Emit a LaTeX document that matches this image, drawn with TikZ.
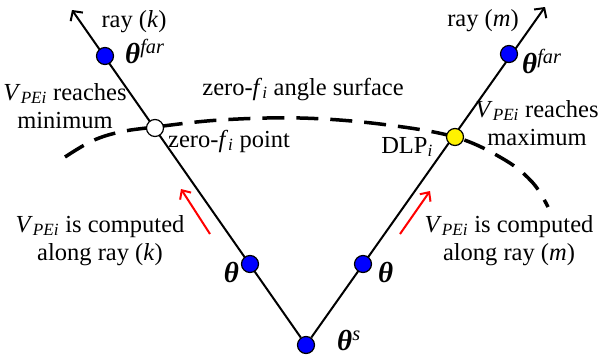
\documentclass[tikz,border=0pt]{standalone}
\usepackage{fontspec}
\setmainfont{Liberation Serif}
\usetikzlibrary{arrows.meta, backgrounds}
\newcommand{\vpe}{\textit{V}\textsubscript{\textit{PEi}}}
\newcommand{\bth}{\textbf{\textit{θ}}}

\begin{document}
\begin{tikzpicture}[
        x=1pt, y=-1pt,
        dot/.style={circle, draw=black, fill=#1, line width=1.2pt, minimum size=17pt, inner sep=0pt},
        ray/.style={line width=2pt, -{Straight Barb[length=7pt, width=15pt]}},
        surface/.style={line width=3.5pt, dash pattern=on 22pt off 12pt},
        push/.style={red, line width=2pt, -{Straight Barb[length=7pt, width=13pt]}},
        lbl/.style={font=\fontsize{24.5}{28}\selectfont, inner sep=0pt, align=center},
        big/.style={font=\fontsize{29}{32}\selectfont, inner sep=0pt}
    ]
        \useasboundingbox (0,0) rectangle (599,359);

        % Points on the rays
        \node[dot=blue] (s) at (306,345) {};
        \node[dot=blue] (tk) at (250,264) {};
        \node[dot=blue] (tm) at (363,264) {};
        \node[dot=white] (zf) at (155,128) {};
        \node[dot=yellow] (dlp) at (455,137) {};
        \node[dot=blue] (fk) at (105,56) {};
        \node[dot=blue] (fm) at (509,54) {};
        \coordinate (k) at (72,10);
        \coordinate (m) at (545,7);

        % Rays and surface
        \begin{scope}[on background layer]
            \draw[ray] (s) -- (k);
            \draw[ray] (s) -- (m);
            \draw[surface] plot[smooth, tension=0.6] coordinates {(65,157) (92,141) (120,132) (155,127) (220,120) (300,118) (380,124) (455,137) (505,160) (533,183) (548,207)};
        \end{scope}

        % Search direction
        \coordinate (pk1) at (210,234);
        \coordinate (pk2) at (181,189);
        \coordinate (pm1) at (400,234);
        \coordinate (pm2) at (430,191);
        \draw[push] (pk1) -- (pk2);
        \draw[push] (pm1) -- (pm2);

        % Point labels
        \node[big, anchor=base west] (lfk) at (125,63) {\bth\textsuperscript{\textit{far}}};
        \node[big, anchor=base west] (lfm) at (522,73) {\bth\textsuperscript{\textit{far}}};
        \node[big, anchor=base east] (ltk) at (239,282) {\bth};
        \node[big, anchor=base west] (ltm) at (378,282) {\bth};
        \node[big, anchor=base west] (ls) at (337,350) {\bth\textsuperscript{\textit{s}}};

        % Text labels
        \node[lbl, anchor=base] (rk) at (134,27) {ray (\textit{k})};
        \node[lbl, anchor=base] (rm) at (483,26) {ray (\textit{m})};
        \node[lbl, anchor=base] (surf) at (303,95) {zero-\textit{f}\textsubscript{\textit{i}} angle surface};
        \node[lbl, anchor=base west] (lzf) at (168,147) {zero-\textit{f}\textsubscript{\textit{i}} point};
        \node[lbl, anchor=base east] (ldlp) at (433,153) {DLP\textsubscript{\textit{i}}};
        \node[lbl, anchor=base] (mink) at (65,128) {\vpe{} reaches\\minimum};
        \node[lbl, anchor=base] (maxm) at (537,145) {\vpe{} reaches\\maximum};
        \node[lbl, anchor=base] (cmpk) at (100,260) {\vpe{} is computed\\along ray (\textit{k})};
        \node[lbl, anchor=base] (cmpm) at (509,260) {\vpe{} is computed\\along ray (\textit{m})};
    \end{tikzpicture}
\end{document}
